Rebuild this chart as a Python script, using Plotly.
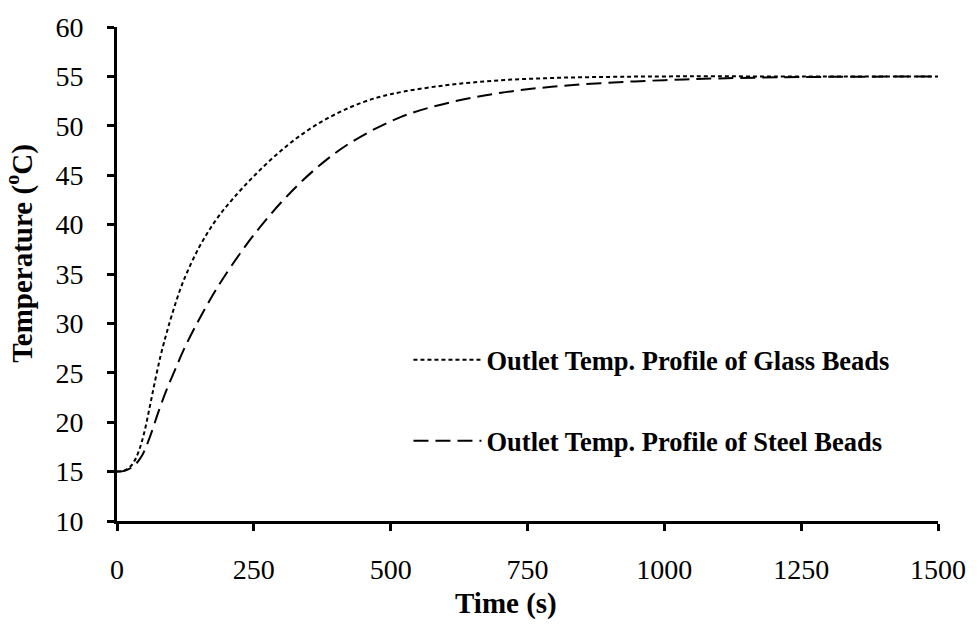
import plotly.graph_objects as go

# ---- data ----
glass_time = [0, 10, 20, 30, 40, 50, 60, 70, 80, 90, 100, 120, 150, 180, 210, 250, 300, 350,
              400, 450, 500, 600, 700, 800, 900, 1000, 1200, 1500]
glass_temp = [15.0, 15.05, 15.3, 15.9, 17.1, 19.0, 21.6, 24.3, 26.8, 28.9, 30.8, 34.1, 37.7, 40.4, 42.5, 44.9, 47.5, 49.6,
              51.2, 52.4, 53.2, 54.1, 54.6, 54.85, 54.95, 55.0, 55.0, 55.0]

steel_time = [0, 15, 30, 45, 60, 76, 90, 106, 125, 149, 170, 192, 229, 265, 311, 366,
              427, 519, 611, 702, 794, 895, 1000, 1100, 1250, 1500]
steel_temp = [15.0, 15.1, 15.55, 16.55, 18.5, 21.1, 23.2, 25.3, 27.7, 30.3, 32.4, 34.4, 37.4, 40.0, 42.9, 45.8,
              48.3, 50.9, 52.4, 53.35, 53.95, 54.35, 54.62, 54.8, 54.93, 55.0]

x_ticks = [0, 250, 500, 750, 1000, 1250, 1500]
y_ticks = [10, 15, 20, 25, 30, 35, 40, 45, 50, 55, 60]

glass_name = "Outlet Temp. Profile of Glass Beads"
steel_name = "Outlet Temp. Profile of Steel Beads"
x_title = "Time (s)"
y_title = "Temperature (<sup>o</sup>C)"

FONT = "Liberation Serif, Times New Roman, serif"

fig = go.Figure()
fig.add_trace(go.Scatter(
    x=glass_time, y=glass_temp, mode="lines", name=glass_name,
    line=dict(color="black", width=2, dash="4px,3px", shape="spline", smoothing=1.0),
    legend="legend",
))
fig.add_trace(go.Scatter(
    x=steel_time, y=steel_temp, mode="lines", name=steel_name,
    line=dict(color="black", width=2, dash="15px,7px", shape="spline", smoothing=1.0),
    legend="legend2",
))

axis_common = dict(
    showline=True, linewidth=3, linecolor="black",
    ticks="outside", ticklen=7, tickwidth=3, tickcolor="black",
    showgrid=False, zeroline=False, mirror=False,
    tickfont=dict(family=FONT, size=28, color="black"),
)

fig.update_xaxes(range=[0, 1500], tickvals=x_ticks, ticktext=[str(v) for v in x_ticks],
                 ticklabelstandoff=14, **axis_common)
fig.update_yaxes(range=[10, 60], tickvals=y_ticks, ticktext=[str(v) for v in y_ticks],
                 ticklabelstandoff=18, **axis_common)

legend_common = dict(
    xanchor="left", yanchor="middle", bgcolor="rgba(0,0,0,0)", borderwidth=0,
    font=dict(family=FONT, size=26.5, color="black", weight="bold"),
    itemwidth=68,
)

fig.update_layout(
    width=979, height=628,
    margin=dict(l=117, r=41, t=21, b=107),
    plot_bgcolor="white", paper_bgcolor="white",
    showlegend=True,
    legend=dict(x=0.355, y=0.326, **legend_common),
    legend2=dict(x=0.355, y=0.162, **legend_common),
    annotations=[
        dict(text=x_title, xref="paper", yref="paper", x=0.474, y=-0.166,
             xanchor="center", yanchor="middle", showarrow=False,
             font=dict(family=FONT, size=29, color="black", weight="bold")),
        dict(text=y_title, xref="paper", yref="paper", x=-0.118, y=0.541,
             xanchor="center", yanchor="middle", showarrow=False, textangle=-90,
             font=dict(family=FONT, size=29, color="black", weight="bold")),
    ],
)

fig.write_html("out.html")
